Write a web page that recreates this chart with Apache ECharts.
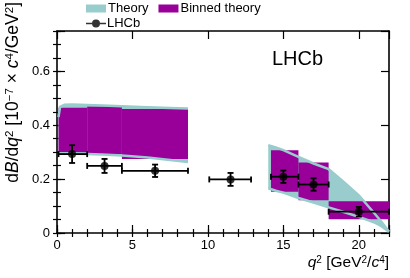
<!DOCTYPE html>
<html><head><meta charset="utf-8">
<script src="https://cdn.jsdelivr.net/npm/echarts@6/dist/echarts.min.js"></script>
<style>html,body{margin:0;padding:0;background:#fff}#c{width:410px;height:278px}</style>
</head><body><div id="c"></div>
<script>
// LHCb measurement
const binLo   = [0.1, 2.0, 4.3, 10.09, 14.18, 16.0, 18.0];
const binHi   = [2.0, 4.3, 8.68, 12.86, 16.0, 18.0, 22.0];
const lhcbX   = [1.0, 3.15, 6.5, 11.5, 15.0, 17.0, 20.0];
const lhcbY   = [0.293, 0.249, 0.231, 0.199, 0.209, 0.180, 0.079];
const lhcbErr = [0.033, 0.026, 0.023, 0.024, 0.023, 0.023, 0.018];
// Binned theory
const binnedLo  = [0.1, 2.0, 4.3, 14.18, 16.0, 18.0];
const binnedHi  = [2.0, 4.3, 8.68, 16.0, 18.0, 22.0];
const binnedMin = [0.300, 0.293, 0.275, 0.153, 0.122, 0.051];
const binnedMax = [0.465, 0.470, 0.460, 0.307, 0.262, 0.118];
// Continuous theory band
const lowQ2    = [0.1, 0.2, 0.5, 1, 2, 3, 4.3, 6, 7.5, 8.68];
const lowUpper = [0.43, 0.468, 0.476, 0.477, 0.475, 0.473, 0.471, 0.467, 0.464, 0.462];
const lowLower = [0.296, 0.296, 0.296, 0.295, 0.293, 0.291, 0.288, 0.280, 0.271, 0.264];
const highQ2    = [14.0, 14.5, 15, 16, 17, 18, 19, 20, 21, 21.5, 22];
const highUpper = [0.326, 0.318, 0.308, 0.283, 0.258, 0.237, 0.19, 0.14, 0.075, 0.042, 0.005];
const highLower = [0.166, 0.157, 0.150, 0.130, 0.113, 0.095, 0.078, 0.060, 0.040, 0.025, 0.005];
// Tick labels
const xTickLabels = [0, 5, 10, 15, 20];
const yTickLabels = [0, 0.2, 0.4, 0.6];

const CYAN = '#99cccc', PURPLE = '#990099';
const FONT = 'Liberation Sans';

const chart = echarts.init(document.getElementById('c'), null, {renderer: 'canvas'});

function bandPoly(api, q, up, lo) {
  const pts = [];
  for (let i = 0; i < q.length; i++) pts.push(api.coord([q[i], up[i]]));
  for (let i = q.length - 1; i >= 0; i--) pts.push(api.coord([q[i], lo[i]]));
  return pts;
}
function linePts(api, q, v) { return q.map((x, i) => api.coord([x, v[i]])); }

const isMajor = (v, step) => Math.abs(v / step - Math.round(v / step)) < 1e-6;

const axisCommon = {
  type: 'value', splitLine: {show: false},
  axisLine: {show: true, onZero: false, lineStyle: {color: '#000', width: 1.6}},
};

chart.setOption({
  animation: false,
  backgroundColor: '#fff',
  grid: {left: 57, right: 21, top: 31, bottom: 45},
  legend: [
    {data: [{name: 'Theory', icon: 'rect', itemStyle: {color: CYAN}},
            {name: 'Binned theory', icon: 'rect', itemStyle: {color: PURPLE}}],
     left: 86, top: 2, padding: 0, itemWidth: 20, itemHeight: 8, itemGap: 10,
     selectedMode: false, textStyle: {fontSize: 13, fontFamily: FONT, color: '#000', padding: [0, 0, 0, -3]}},
    {data: [{name: 'LHCb', icon: 'path://M0,3.2H20V4.8H0Z M14,4A4,4 0 1,1 6,4A4,4 0 1,1 14,4Z', itemStyle: {color: '#000'}}],
     left: 86, top: 17, padding: 0, itemWidth: 20, itemHeight: 8,
     selectedMode: false, textStyle: {fontSize: 13, fontFamily: FONT, color: '#000', padding: [0, 0, 0, -4]}}
  ],
  xAxis: [
    Object.assign({}, axisCommon, {min: 0, max: 22, interval: 5, position: 'bottom',
      axisTick: {show: true, inside: true, length: 8, lineStyle: {color: '#000', width: 1.2}},
      axisLabel: {color: '#000', fontSize: 13, fontFamily: FONT, margin: 6,
        formatter: v => xTickLabels.indexOf(Math.round(v)) >= 0 && isMajor(v, 5) ? String(Math.round(v)) : ''}}),
    Object.assign({}, axisCommon, {min: 0, max: 22, interval: 1, position: 'bottom', axisLine: {show: false},
      axisTick: {show: true, inside: true, length: 4, lineStyle: {color: '#000', width: 1.2}}, axisLabel: {show: false}}),
    Object.assign({}, axisCommon, {min: 0, max: 22, interval: 5, position: 'top',
      axisTick: {show: true, inside: true, length: 8, lineStyle: {color: '#000', width: 1.2}}, axisLabel: {show: false}}),
    Object.assign({}, axisCommon, {min: 0, max: 22, interval: 1, position: 'top', axisLine: {show: false},
      axisTick: {show: true, inside: true, length: 4, lineStyle: {color: '#000', width: 1.2}}, axisLabel: {show: false}})
  ],
  yAxis: [
    Object.assign({}, axisCommon, {min: 0, max: 0.75, interval: 0.2, position: 'left',
      axisTick: {show: true, inside: true, length: 8, lineStyle: {color: '#000', width: 1.2}},
      axisLabel: {color: '#000', fontSize: 13, fontFamily: FONT, margin: 7,
        formatter: v => {
          for (const t of yTickLabels) if (Math.abs(v - t) < 1e-6) return String(t);
          return '';
        }}}),
    Object.assign({}, axisCommon, {min: 0, max: 0.75, interval: 0.05, position: 'left', axisLine: {show: false},
      axisTick: {show: true, inside: true, length: 4, lineStyle: {color: '#000', width: 1.2}}, axisLabel: {show: false}}),
    Object.assign({}, axisCommon, {min: 0, max: 0.75, interval: 0.2, position: 'right',
      axisTick: {show: true, inside: true, length: 8, lineStyle: {color: '#000', width: 1.2}}, axisLabel: {show: false}}),
    Object.assign({}, axisCommon, {min: 0, max: 0.75, interval: 0.05, position: 'right', axisLine: {show: false},
      axisTick: {show: true, inside: true, length: 4, lineStyle: {color: '#000', width: 1.2}}, axisLabel: {show: false}})
  ],
  series: [
    {
      name: 'Theory', type: 'custom', z: 1, itemStyle: {color: CYAN},
      data: [[0, 0]], encode: {x: 0, y: 1},
      renderItem: (params, api) => ({
        type: 'group', children: [
          {type: 'polygon', shape: {points: bandPoly(api, lowQ2, lowUpper, lowLower)}, style: {fill: CYAN, stroke: null}},
          {type: 'polygon', shape: {points: bandPoly(api, highQ2, highUpper, highLower)}, style: {fill: CYAN, stroke: null}}
        ]
      })
    },
    {
      name: 'Binned theory', type: 'custom', z: 2, itemStyle: {color: PURPLE},
      data: binnedLo.map((lo, i) => [lo, binnedHi[i], binnedMin[i], binnedMax[i]]),
      encode: {x: [0, 1], y: [2, 3]},
      renderItem: (params, api) => {
        const a = api.coord([api.value(0), api.value(3)]);
        const b = api.coord([api.value(1), api.value(2)]);
        return {type: 'rect', shape: {x: a[0], y: a[1], width: b[0] - a[0], height: b[1] - a[1]},
                style: {fill: PURPLE, stroke: null}};
      }
    },
    {
      name: 'TheoryEdges', type: 'custom', z: 3, silent: true,
      data: [[0, 0]], encode: {x: 0, y: 1},
      renderItem: (params, api) => ({
        type: 'group', children: [
          [lowQ2, lowUpper], [lowQ2, lowLower], [highQ2, highUpper], [highQ2, highLower]
        ].map(([q, v]) => ({type: 'polyline', shape: {points: linePts(api, q, v)},
            style: {stroke: CYAN, lineWidth: 2.5, fill: null}}))
      })
    },
    {
      name: 'LHCbErr', type: 'custom', z: 4, silent: true,
      data: lhcbX.map((x, i) => [x, lhcbY[i], binLo[i], binHi[i], lhcbErr[i]]),
      encode: {x: 0, y: 1},
      renderItem: (params, api) => {
        const x = api.value(0), y = api.value(1), lo = api.value(2), hi = api.value(3), e = api.value(4);
        const pL = api.coord([lo, y]), pR = api.coord([hi, y]);
        const pT = api.coord([x, y + e]), pB = api.coord([x, y - e]);
        const st = {stroke: '#000', lineWidth: 1.8, fill: null};
        const c = 3;
        return {type: 'group', children: [
          {type: 'line', shape: {x1: pL[0], y1: pL[1], x2: pR[0], y2: pR[1]}, style: st},
          {type: 'line', shape: {x1: pL[0], y1: pL[1] - c, x2: pL[0], y2: pL[1] + c}, style: st},
          {type: 'line', shape: {x1: pR[0], y1: pR[1] - c, x2: pR[0], y2: pR[1] + c}, style: st},
          {type: 'line', shape: {x1: pT[0], y1: pT[1], x2: pB[0], y2: pB[1]}, style: st},
          {type: 'line', shape: {x1: pT[0] - c, y1: pT[1], x2: pT[0] + c, y2: pT[1]}, style: st},
          {type: 'line', shape: {x1: pB[0] - c, y1: pB[1], x2: pB[0] + c, y2: pB[1]}, style: st}
        ]};
      }
    },
    {
      name: 'LHCb', type: 'scatter', z: 5, symbol: 'circle', symbolSize: 8,
      itemStyle: {color: '#000'},
      data: lhcbX.map((x, i) => [x, lhcbY[i]])
    }
  ],
  graphic: [
    {type: 'text', left: 272, top: 49, style: {text: 'LHCb', fontSize: 20, fontFamily: FONT, fill: '#000'}},
    {type: 'text', x: 13, y: 2, rotation: Math.PI / 2,
     style: {text: 'd{i|B}/d{i|q}{s|2} [10{s|−7} × {i|c}{s|4}/GeV{s|2}]',
       fontSize: 17.5, fontFamily: FONT, fill: '#000', align: 'right', verticalAlign: 'middle',
       rich: {i: {fontStyle: 'italic', fontSize: 17.5, fontFamily: FONT},
              s: {fontSize: 11.5, fontFamily: FONT, verticalAlign: 'top'}}}},
    {type: 'text', x: 389, y: 263,
     style: {text: '{i|q}{s|2} [GeV{s|2}/{i|c}{s|4}]',
       fontSize: 15.5, fontFamily: FONT, fill: '#000', align: 'right', verticalAlign: 'middle',
       rich: {i: {fontStyle: 'italic', fontSize: 15.5, fontFamily: FONT},
              s: {fontSize: 10, fontFamily: FONT, verticalAlign: 'top'}}}}
  ]
});
</script></body></html>
